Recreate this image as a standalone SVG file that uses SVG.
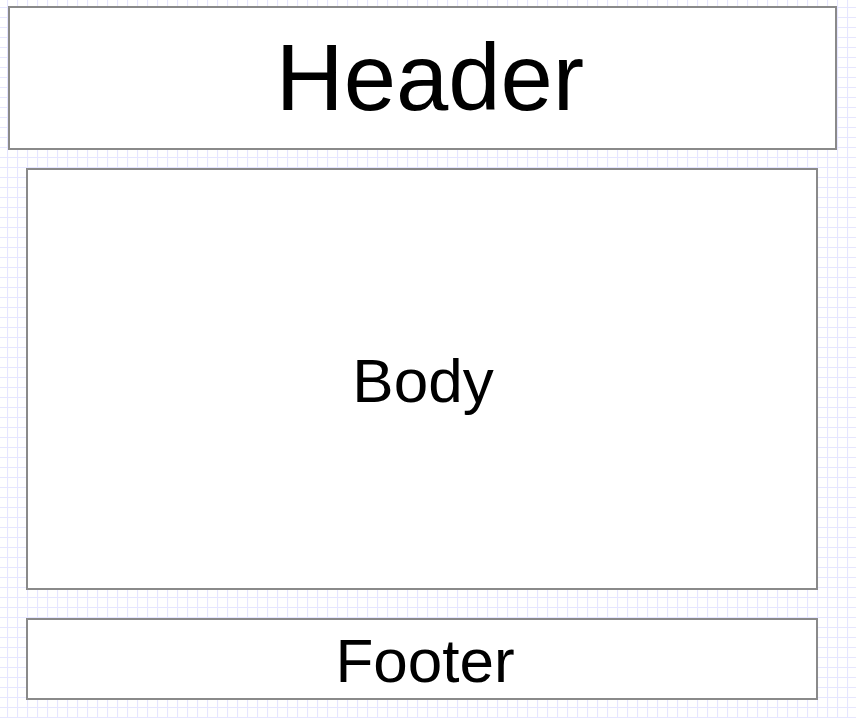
<svg xmlns="http://www.w3.org/2000/svg" width="856" height="718" viewBox="0 0 856 718">
<defs>
<pattern id="grid" x="7" y="7" width="10" height="10" patternUnits="userSpaceOnUse">
<path d="M0 0.5H10M0.5 0V10" fill="none" stroke="#e6e6ff" stroke-width="1.2"/>
</pattern>
</defs>
<style>
.box{fill:#ffffff;stroke:#8a8a8a;stroke-width:2}
.lbl{font-family:"Liberation Sans",Arial,sans-serif;fill:#000;text-anchor:middle}
</style>
<rect width="856" height="718" fill="#ffffff"/>
<rect width="856" height="718" fill="url(#grid)"/>
<g id="connectors"></g>
<g id="header">
<rect class="box" x="9" y="7" width="827" height="142"/>
<text class="lbl" x="430" y="110" font-size="94">Header</text>
</g>
<g id="body">
<rect class="box" x="27" y="169" width="790" height="420"/>
<text class="lbl" x="423" y="402" font-size="62">Body</text>
</g>
<g id="footer">
<rect class="box" x="27" y="619" width="790" height="80"/>
<text class="lbl" x="425" y="682" font-size="62">Footer</text>
</g>
</svg>
